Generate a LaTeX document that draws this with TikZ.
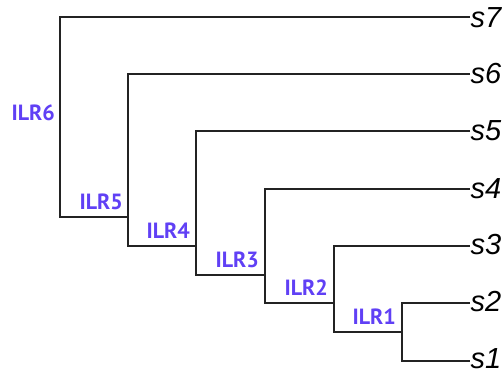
\documentclass[tikz,border=0pt]{standalone}
\usepackage{fontspec}
\setmainfont{Liberation Sans}
\newfontfamily\ilrfont{PT Sans}
\usetikzlibrary{calc}
\definecolor{ilrcol}{RGB}{96,64,245}
\definecolor{linecol}{RGB}{35,35,35}
\tikzset{
  branch/.style={draw=linecol, line width=2pt},
  leaf/.style={anchor=base west, inner sep=0pt, outer sep=0pt, font=\fontsize{29}{30}\selectfont\itshape},
  ilr/.style={anchor=base east, inner sep=0pt, text=ilrcol, font=\fontsize{22}{24}\selectfont\ilrfont\bfseries}
}
\begin{document}
\begin{tikzpicture}[x=1pt,y=-1pt]
\path[use as bounding box] (0,0) rectangle (503,378);
% leaf ends
\coordinate (e1) at (470,361);
\coordinate (e2) at (470,303);
\coordinate (e3) at (470,246);
\coordinate (e4) at (470,189);
\coordinate (e5) at (470,131);
\coordinate (e6) at (470,74);
\coordinate (e7) at (470,17);
% leaf labels
\node[leaf] (s1) at ($(e1)+(0.5,7.5)$) {s1};
\node[leaf] (s2) at ($(e2)+(0.5,8.5)$) {s2};
\node[leaf] (s3) at ($(e3)+(0.5,8.5)$) {s3};
\node[leaf] (s4) at ($(e4)+(0.5,9)$) {s4};
\node[leaf] (s5) at ($(e5)+(0.5,9)$) {s5};
\node[leaf] (s6) at ($(e6)+(0.5,9.5)$) {s6};
\node[leaf] (s7) at ($(e7)+(0.5,10)$) {s7};
% internal nodes
\coordinate (n1) at (402,332);
\coordinate (n2) at (334,303);
\coordinate (n3) at (265,275);
\coordinate (n4) at (196,246);
\coordinate (n5) at (128,217);
\coordinate (n6) at (60,189);
% branches
\draw[branch] (e2) -| (n1) |- (e1);
\draw[branch] (e3) -| (n2) |- (n1);
\draw[branch] (e4) -| (n3) |- (n2);
\draw[branch] (e5) -| (n4) |- (n3);
\draw[branch] (e6) -| (n5) |- (n4);
\draw[branch] (e7) -| (n6) |- (n5);
% labels
\node[ilr] (l1) at ($(n1)+(-6,-7.5)$) {ILR1};
\node[ilr] (l2) at ($(n2)+(-6,-7.5)$) {ILR2};
\node[ilr] (l3) at ($(n3)+(-6,-7.5)$) {ILR3};
\node[ilr] (l4) at ($(n4)+(-6,-7.5)$) {ILR4};
\node[ilr] (l5) at ($(n5)+(-5,-8)$) {ILR5};
\node[ilr] (l6) at (55,120.5) {ILR6};
\end{tikzpicture}
\end{document}
